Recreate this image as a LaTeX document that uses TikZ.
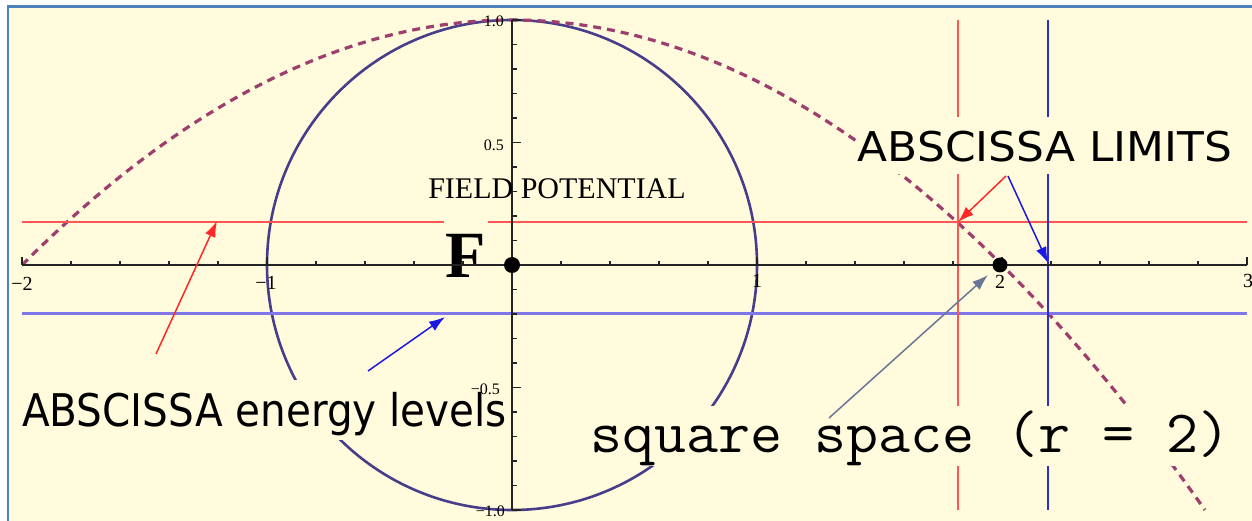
\documentclass[tikz,border=0pt]{standalone}
\usepackage{fontspec}
\usepackage{graphicx}
\setmainfont{Liberation Serif}
\newfontfamily\comicfont{DejaVu Sans}
\usetikzlibrary{arrows.meta}
\definecolor{bgyellow}{RGB}{255,251,220}
\definecolor{frameblue}{RGB}{79,129,189}
\definecolor{circlecol}{RGB}{72,61,139}
\definecolor{curvecol}{RGB}{158,62,110}
\definecolor{redline}{RGB}{255,85,85}
\definecolor{blueh}{RGB}{128,118,232}
\definecolor{bluev}{RGB}{45,45,215}
\definecolor{arrred}{RGB}{255,40,40}
\definecolor{arrblue}{RGB}{25,25,225}
\definecolor{arrgray}{RGB}{105,118,150}
\definecolor{axiscol}{RGB}{35,35,35}
\begin{document}
\begin{tikzpicture}[x=1bp,y=-1bp,
  axisline/.style={axiscol,line width=2bp},
  tickline/.style={axiscol,line width=1.5bp},
  ptr/.style={line width=1.5bp,-{Latex[length=16bp,width=11bp]}},
  xlab/.style={font=\fontsize{20bp}{21bp}\selectfont,inner sep=0pt},
  ylab/.style={font=\fontsize{16bp}{17bp}\selectfont,inner sep=0pt,anchor=east},
  cover/.style={fill=bgyellow,inner sep=0pt},
  dot/.style={circle,fill=black,inner sep=0pt,minimum size=16bp}]
\useasboundingbox (0,0) rectangle (1252,521);
\fill[white] (0,0) rectangle (1252,521);
\fill[bgyellow] (8,6.5) rectangle (1252,521);
\draw[frameblue,line width=2.5bp] (8,521) -- (8,6.5) -- (1252,6.5);
% circle and potential curve
\draw[circlecol,line width=2.6bp] (512,265) circle[radius=245];
\draw[curvecol,line width=3.2bp,dash pattern=on 8bp off 6bp]
  plot[domain=-2:2.83,samples=120,smooth] ({512+245*\x},{265-245*(1-(\x)*(\x)/4)});
% levels and limits
\draw[redline,line width=2.5bp] (22,222) -- (1247,222);
\draw[blueh,line width=3bp] (22,313.5) -- (1247,313.5);
\draw[redline,line width=2.5bp] (958,20) -- (958,510);
\draw[bluev,line width=2bp] (1048,20) -- (1048,510);
% F label
\node[cover,inner xsep=1.5bp,font=\fontsize{66bp}{70bp}\selectfont\bfseries,
  text height=57bp,text depth=0pt,anchor=base] (F) at (466,278) {F};
% axes
\draw[axisline] (22,265) -- (1247,265);
\draw[axisline] (512,20) -- (512,510);
\foreach \i in {0,...,25}{
  \pgfmathtruncatemacro{\m}{mod(\i,5)}
  \ifnum\i=10\else
    \ifnum\m=0
      \draw[tickline] ({22+49*\i},265) -- ++(0,-8);
    \else
      \draw[tickline] ({22+49*\i},265) -- ++(0,-4);
    \fi
  \fi}
\foreach \j in {0,...,20}{
  \pgfmathtruncatemacro{\m}{mod(\j,5)}
  \ifnum\j=10\else
    \ifnum\m=0
      \draw[tickline] (512,{20+24.5*\j}) -- ++(9,0);
    \else
      \draw[tickline] (512,{20+24.5*\j}) -- ++(5,0);
    \fi
  \fi}
% text labels with opaque background
\node[cover,font=\comicfont\fontsize{45bp}{50bp}\selectfont,anchor=base west,
  text height=46bp,text depth=14bp] (levels) at (22,426)
  {\scalebox{0.9}[1]{ABSCISSA energy levels}};
\node[cover,font=\comicfont\fontsize{41bp}{46bp}\selectfont,anchor=base,
  text height=45bp,text depth=12bp] (limits) at (1045,162)
  {\scalebox{1.07}[1]{ABSCISSA LIMITS}};
\node[cover,font=\ttfamily\fontsize{60bp}{64bp}\selectfont,anchor=base west,
  text height=46bp,text depth=14bp] (square) at (590,452)
  {\scalebox{1.036}[1]{square space (r = 2)}};
\node[font=\fontsize{30bp}{32bp}\selectfont,anchor=base,inner sep=0pt] (field) at (557,199) {FIELD POTENTIAL};
% tick labels
\node[xlab] (xm2) at (22,284) {−2};
\node[xlab] (xm1) at (266,283) {−1};
\node[xlab] (x1) at (757,281) {1};
\node[xlab] (x2) at (1000,282) {2};
\node[xlab] (x3) at (1248,281) {3};
\node[ylab] (y1) at (504,21) {1.0};
\node[ylab] (y05) at (504,145) {0.5};
\node[ylab] (ym05) at (500,389) {−0.5};
\node[ylab] (ym1) at (505,511) {−1.0};
% points
\node[dot] (O) at (512,265) {};
\node[dot,minimum size=15bp] (P2) at (1000,265) {};
% pointer arrows
\coordinate (a1s) at (156,354); \coordinate (a1e) at (217,221);
\coordinate (a2s) at (368,371); \coordinate (a2e) at (445,317);
\coordinate (a3s) at (1006,176); \coordinate (a3e) at (958,222);
\coordinate (a4s) at (1008,176); \coordinate (a4e) at (1048,263);
\coordinate (a5s) at (829,418); \coordinate (a5e) at (988,275);
\draw[ptr,arrred] (a1s) -- (a1e);
\draw[ptr,arrblue] (a2s) -- (a2e);
\draw[ptr,arrred] (a3s) -- (a3e);
\draw[ptr,arrblue] (a4s) -- (a4e);
\draw[ptr,arrgray] (a5s) -- (a5e);
\end{tikzpicture}
\end{document}
